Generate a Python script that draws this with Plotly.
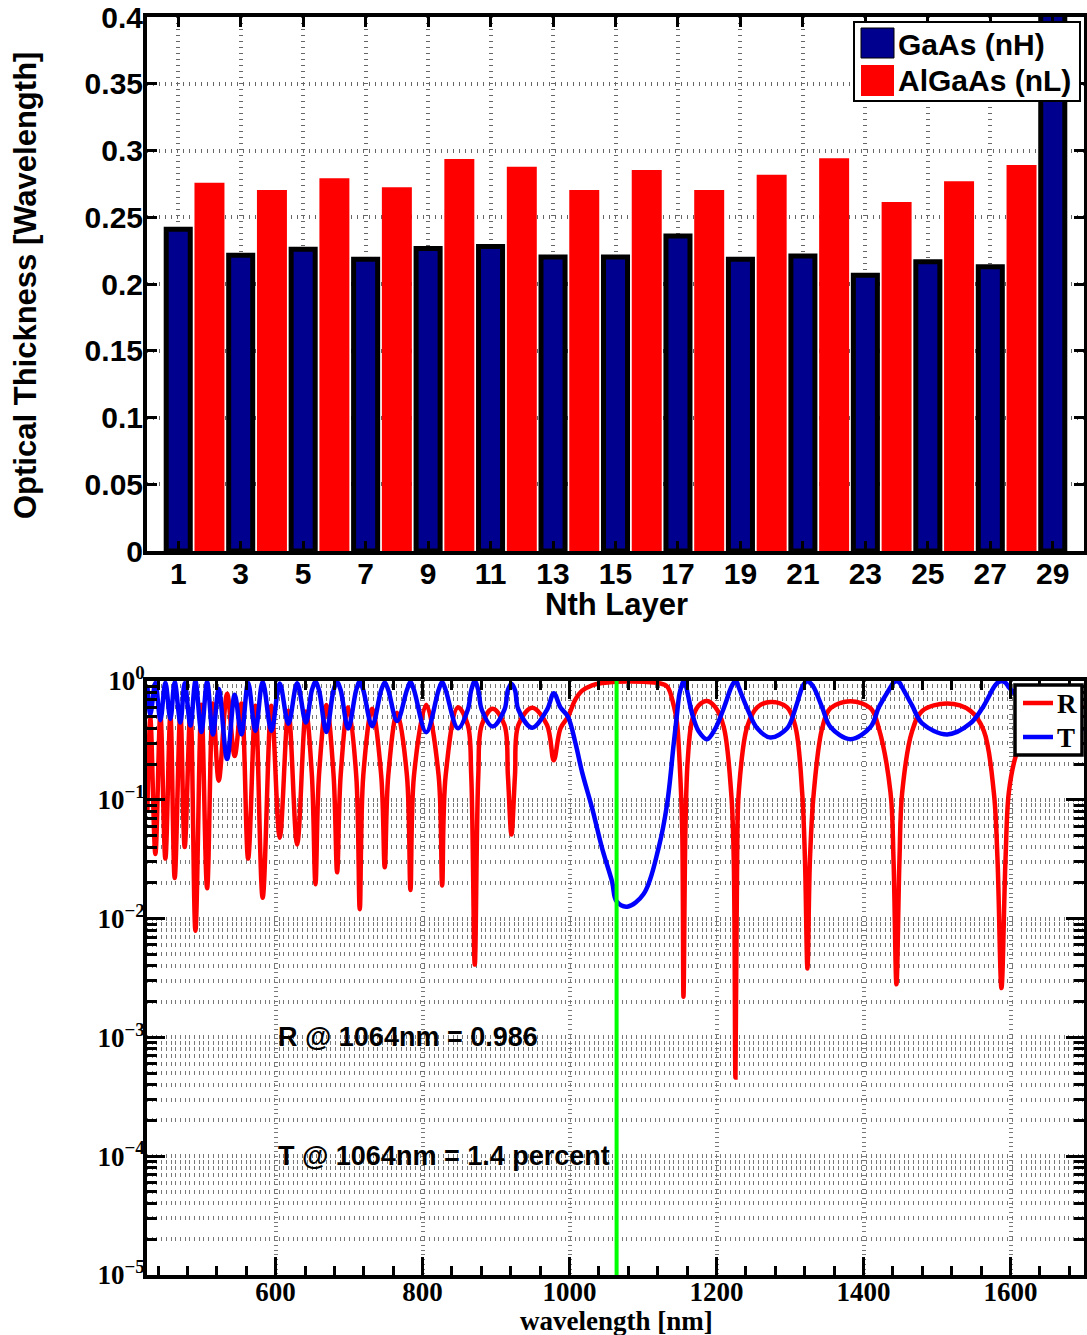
import plotly.graph_objects as go

# ---------------- layer stack: optical thickness per layer ----------------
gaas_layers = [1, 3, 5, 7, 9, 11, 13, 15, 17, 19, 21, 23, 25, 27, 29]
gaas_thickness = [0.2410, 0.2215, 0.2260, 0.2185, 0.2265, 0.2280, 0.2203, 0.2203,
                  0.2360, 0.2185, 0.2210, 0.2065, 0.2166, 0.2130, 0.5000]
algaas_layers = [2, 4, 6, 8, 10, 12, 14, 16, 18, 20, 22, 24, 26, 28]
algaas_thickness = [0.2759, 0.2704, 0.2792, 0.2724, 0.2936, 0.2879, 0.2704,
                    0.2854, 0.2704, 0.2819, 0.2942, 0.2614, 0.2769, 0.2891]
layer_ticks = [1, 3, 5, 7, 9, 11, 13, 15, 17, 19, 21, 23, 25, 27, 29]

# ---------------- spectral response of the mirror ----------------
wavelength_nm = [
    425.5, 429.6, 436.4, 443.2, 450.0, 456.8, 462.7, 470.4, 476.3, 484.1,
    490.9, 499.0, 506.8, 514.7, 522.6, 534.0, 544.3, 553.5, 562.6, 572.5,
    582.4, 594.3, 605.6, 617.4, 629.3, 641.2, 649.4, 654.2, 659.0, 669.1,
    678.9, 683.7, 688.5, 698.7, 709.7, 714.5, 719.3, 731.3, 743.7, 748.5,
    753.3, 765.3, 778.7, 783.5, 788.3, 805.0, 821.8, 826.6, 831.4, 848.1,
    861.5, 866.2, 871.0, 875.8, 880.5, 895.4, 911.4, 916.1, 920.9, 925.7,
    930.4, 949.1, 969.3, 978.5, 987.6, 997.8, 1008.0, 1017.1, 1030.7, 1044.3,
    1057.9, 1063.8, 1078.4, 1101.0, 1121.4, 1132.8, 1141.8, 1146.1, 1149.5, 1153.2,
    1155.0, 1157.7, 1160.8, 1166.8, 1175.4, 1187.2, 1198.5, 1209.8, 1219.9, 1223.4,
    1225.7, 1228.0, 1230.2, 1241.6, 1255.3, 1273.4, 1296.1, 1307.4, 1316.5, 1320.3,
    1323.7, 1327.1, 1332.3, 1343.7, 1355.0, 1382.3, 1409.5, 1420.8, 1436.7, 1440.8,
    1444.8, 1448.9, 1452.6, 1466.2, 1479.8, 1513.9, 1545.5, 1563.7, 1577.3, 1582.3,
    1587.7, 1593.2, 1597.7, 1606.8, 1627.2, 1647.6, 1674.8, 1699.3,
]
reflectance = [
    0.079, 0.48, 0.035, 0.53, 0.032, 0.52, 0.022, 0.55, 0.040, 0.58,
    0.0079, 0.63, 0.018, 0.645, 0.145, 0.78, 0.234, 0.645, 0.032, 0.62,
    0.015, 0.62, 0.048, 0.563, 0.042, 0.553, 0.16, 0.0195, 0.16, 0.628,
    0.16, 0.0245, 0.16, 0.602, 0.16, 0.012, 0.16, 0.583, 0.16, 0.027,
    0.16, 0.54, 0.16, 0.0174, 0.16, 0.63, 0.16, 0.019, 0.16, 0.60,
    0.427, 0.16, 0.0041, 0.16, 0.427, 0.585, 0.427, 0.16, 0.051, 0.16,
    0.427, 0.595, 0.427, 0.215, 0.40, 0.50, 0.70, 0.83, 0.92, 0.962,
    0.98, 0.986, 0.988, 0.984, 0.96, 0.90, 0.62, 0.45, 0.22, 0.059,
    0.0022, 0.059, 0.216, 0.47, 0.62, 0.68, 0.60, 0.41, 0.115, 0.0316,
    0.00046, 0.0316, 0.115, 0.41, 0.60, 0.666, 0.60, 0.41, 0.115, 0.0316,
    0.0038, 0.0316, 0.115, 0.40, 0.59, 0.676, 0.59, 0.40, 0.115, 0.0316,
    0.0028, 0.0316, 0.115, 0.38, 0.56, 0.645, 0.56, 0.38, 0.115, 0.0316,
    0.0026, 0.0316, 0.115, 0.23, 0.48, 0.60, 0.645, 0.60,
]
transmittance = [
    0.92, 0.525, 0.965, 0.468, 0.968, 0.479, 0.978, 0.447, 0.96, 0.422,
    0.992, 0.372, 0.982, 0.355, 0.855, 0.22, 0.766, 0.355, 0.968, 0.38,
    0.985, 0.38, 0.952, 0.437, 0.958, 0.447, 0.84, 0.98, 0.84, 0.372,
    0.84, 0.975, 0.84, 0.398, 0.84, 0.988, 0.84, 0.417, 0.84, 0.973,
    0.84, 0.46, 0.84, 0.983, 0.84, 0.37, 0.84, 0.981, 0.84, 0.40,
    0.573, 0.84, 0.996, 0.84, 0.573, 0.415, 0.573, 0.84, 0.949, 0.84,
    0.573, 0.405, 0.573, 0.79, 0.60, 0.50, 0.30, 0.17, 0.085, 0.039,
    0.0204, 0.014, 0.0126, 0.0162, 0.040, 0.093, 0.30, 0.52, 0.78, 0.94,
    0.998, 0.94, 0.78, 0.53, 0.38, 0.324, 0.40, 0.59, 0.885, 0.968,
    0.999, 0.968, 0.885, 0.59, 0.40, 0.334, 0.40, 0.59, 0.885, 0.968,
    0.996, 0.968, 0.885, 0.60, 0.41, 0.324, 0.41, 0.60, 0.885, 0.968,
    0.997, 0.968, 0.885, 0.62, 0.44, 0.355, 0.44, 0.62, 0.885, 0.968,
    0.997, 0.968, 0.885, 0.77, 0.52, 0.40, 0.355, 0.40,
]
design_wavelength = 1064
r_at_design = 0.986
t_at_design_percent = 1.4

decade_vals = [1e-5, 1e-4, 1e-3, 1e-2, 1e-1, 1]
decade_text = ["10<sup>−5</sup>", "10<sup>−4</sup>", "10<sup>−3</sup>",
               "10<sup>−2</sup>", "10<sup>−1</sup>", "10<sup>0</sup>"]

# ---------------- page geometry helpers ----------------
W, H = 1087, 1335


def px(x):
    return x / W


def py(y):
    return 1 - y / H


SANS = "Liberation Sans, Arial, sans-serif"
SERIF = "Liberation Serif, Times New Roman, serif"
NAVY = "#00008F"
RED = "#FF0000"
BLUE = "#0000FF"
GREEN = "#00FF00"

fig = go.Figure()

# bar chart of layer thicknesses
fig.add_trace(go.Bar(x=gaas_layers, y=gaas_thickness, width=0.77,
                     marker=dict(color=NAVY, line=dict(color="black", width=5)),
                     name="GaAs (nH)", showlegend=False, xaxis="x", yaxis="y"))
fig.add_trace(go.Bar(x=algaas_layers, y=algaas_thickness, width=0.96,
                     marker=dict(color=RED, line=dict(color=RED, width=0)),
                     name="AlGaAs (nL)", showlegend=False, xaxis="x", yaxis="y"))

# reflectance / transmittance spectra
fig.add_trace(go.Scatter(x=wavelength_nm, y=reflectance, mode="lines", name="R",
                         line=dict(color=RED, width=4.5, shape="spline", smoothing=1.0),
                         showlegend=False, xaxis="x2", yaxis="y2"))
fig.add_trace(go.Scatter(x=wavelength_nm, y=transmittance, mode="lines", name="T",
                         line=dict(color=BLUE, width=4.5, shape="spline", smoothing=1.0),
                         showlegend=False, xaxis="x2", yaxis="y2"))
fig.add_trace(go.Scatter(x=[design_wavelength, design_wavelength], y=[1e-5, 1],
                         mode="lines", line=dict(color=GREEN, width=4),
                         showlegend=False, hoverinfo="skip", xaxis="x2", yaxis="y2"))

frame = dict(showline=True, linecolor="black", linewidth=4, mirror="ticks",
             ticks="inside", tickcolor="black", zeroline=False, automargin=False)
grid_top = dict(showgrid=True, gridcolor="#666666", gridwidth=4, griddash="1.3px,4.7px")
grid_bot = dict(showgrid=True, gridcolor="#777777", gridwidth=4, griddash="1px,3.7px")

fig.update_layout(
    width=W, height=H, autosize=False,
    margin=dict(l=0, r=0, t=0, b=0, autoexpand=False),
    paper_bgcolor="white", plot_bgcolor="white",
    barmode="overlay", showlegend=False,
    xaxis=dict(domain=[px(147), px(1084)], anchor="y", range=[0, 30],
               tickvals=layer_ticks, ticklen=10, tickwidth=3, ticklabelstandoff=-7,
               tickfont=dict(family=SANS, size=30, color="black", weight="bold"),
               **frame, **grid_top),
    yaxis=dict(domain=[py(551), py(17)], anchor="x", range=[0, 0.4],
               tick0=0, dtick=0.05, ticklen=10, tickwidth=3, ticklabelstandoff=-6,
               tickfont=dict(family=SANS, size=30, color="black", weight="bold"),
               **frame, **grid_top),
    xaxis2=dict(domain=[px(147), px(1084)], anchor="y2", range=[425, 1700],
                tick0=0, dtick=200, ticklen=18, tickwidth=3, ticklabelstandoff=-10,
                tickfont=dict(family=SERIF, size=27, color="black", weight="bold"),
                minor=dict(tick0=0, dtick=40, ticks="inside", ticklen=9, tickwidth=3,
                           tickcolor="black", showgrid=False),
                **frame, **grid_bot),
    yaxis2=dict(domain=[py(1275), py(681)], anchor="x2", type="log", range=[-5, 0],
                tickvals=decade_vals, ticktext=decade_text, ticklen=18, tickwidth=3,
                ticklabelstandoff=-7,
                tickfont=dict(family=SERIF, size=27, color="black", weight="bold"),
                minor=dict(dtick="D1", ticks="inside", ticklen=10, tickwidth=3,
                           tickcolor="black", showgrid=True, gridcolor="#777777",
                           gridwidth=4, griddash="1px,3.7px"),
                **frame, **grid_bot),
)

# top-panel key (patch + label), drawn above the bars
fig.add_shape(type="rect", xref="paper", yref="paper",
              x0=px(854), x1=px(1080), y0=py(101), y1=py(22),
              fillcolor="white", line=dict(color="black", width=2), layer="above")
fig.add_shape(type="rect", xref="paper", yref="paper",
              x0=px(861), x1=px(894), y0=py(58), y1=py(28),
              fillcolor=NAVY, line=dict(color="black", width=1), layer="above")
fig.add_shape(type="rect", xref="paper", yref="paper",
              x0=px(861), x1=px(894), y0=py(96), y1=py(65),
              fillcolor=RED, line=dict(color=RED, width=0), layer="above")

# bottom-panel key (line sample + label)
fig.add_shape(type="rect", xref="paper", yref="paper",
              x0=px(1015), x1=px(1082), y0=py(755), y1=py(685),
              fillcolor="white", line=dict(color="black", width=3.5), layer="above")
fig.add_shape(type="line", xref="paper", yref="paper",
              x0=px(1023), x1=px(1053), y0=py(703), y1=py(703),
              line=dict(color=RED, width=4.5), layer="above")
fig.add_shape(type="line", xref="paper", yref="paper",
              x0=px(1023), x1=px(1053), y0=py(737), y1=py(737),
              line=dict(color=BLUE, width=4.5), layer="above")

text_sans = dict(family=SANS, size=30, color="black", weight="bold")
title_sans = dict(family=SANS, size=31, color="black", weight="bold")
text_serif = dict(family=SERIF, size=27, color="black", weight="bold")
annotations = [
    dict(text="GaAs (nH)", x=px(896), y=py(44), xanchor="left", yanchor="middle",
         font=text_sans),
    dict(text="AlGaAs (nL)", x=px(896), y=py(81), xanchor="left", yanchor="middle",
         font=text_sans),
    dict(text="R", x=px(1055), y=py(704), xanchor="left", yanchor="middle", font=text_serif),
    dict(text="T", x=px(1055), y=py(738), xanchor="left", yanchor="middle", font=text_serif),
    dict(text="Optical Thickness [Wavelength]", x=px(25), y=py(286), textangle=-90,
         xanchor="center", yanchor="middle", font=title_sans),
    dict(text="Nth Layer", x=px(616), y=py(604), xanchor="center", yanchor="middle",
         font=title_sans),
    dict(text="wavelength [nm]", x=px(616), y=py(1321), xanchor="center", yanchor="middle",
         font=text_serif),
]
for a in annotations:
    a.update(xref="paper", yref="paper", showarrow=False)
    fig.add_annotation(**a)

fig.add_annotation(text=f"R @ {design_wavelength}nm = {r_at_design}", x=600, y=-3,
                   xref="x2", yref="y2", xanchor="left", yanchor="middle",
                   showarrow=False, font=dict(family=SANS, size=27, color="black", weight="bold"))
fig.add_annotation(text=f"T @ {design_wavelength}nm = {t_at_design_percent} percent", x=600, y=-4,
                   xref="x2", yref="y2", xanchor="left", yanchor="middle",
                   showarrow=False, font=dict(family=SANS, size=27, color="black", weight="bold"))

fig.write_html("out.html")
